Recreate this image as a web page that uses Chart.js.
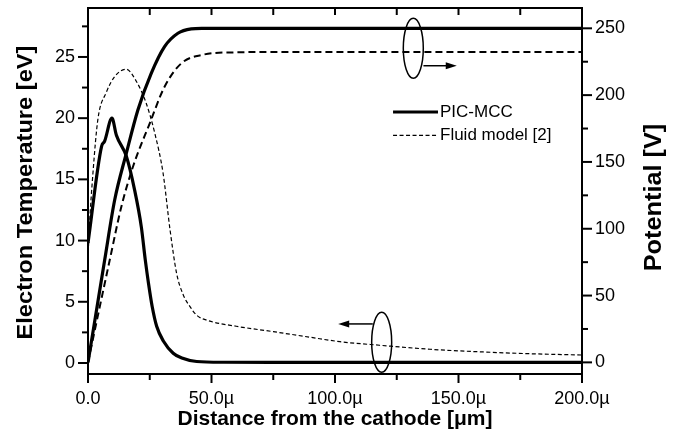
<!DOCTYPE html>
<html>
<head>
<meta charset="utf-8">
<script src="https://cdn.jsdelivr.net/npm/chart.js@4.4.1/dist/chart.umd.min.js"></script>
<style>
  html, body { margin: 0; padding: 0; background: #fff; }
  canvas { display: block; }
</style>
</head>
<body>
<canvas id="chart" width="682" height="446"></canvas>
<script>
// distance in micrometres, temperature in eV, potential in V
const picTempX = [0, 5.5, 6.7, 9.7, 11.5, 15.5, 18.9, 21.6, 23.2, 24.5, 26, 27.8, 30.5, 34.5, 38, 44, 55, 80, 200];
const picTempY = [9.8, 17.7, 18.1, 20.0, 18.6, 16.9, 14.1, 11.1, 8.4, 6.5, 4.6, 3.0, 1.8, 0.8, 0.4, 0.12, 0.06, 0.05, 0.05];

const picPotX = [0, 3, 6.75, 10.8, 15.5, 20.2, 25.6, 31, 36.4, 41.8, 46, 60, 200];
const picPotY = [0, 34, 76.6, 121.5, 156.4, 188.9, 216.3, 236.3, 246.3, 249.6, 250, 250, 250];

const fluidTempX = [0, 0.5, 2, 4, 7.4, 10.8, 15.5, 19.6, 23.6, 27, 30.4, 33.2, 35.9, 38.5, 41.3, 44, 48, 60, 75, 90, 102, 118, 138.5, 160, 180, 200];
const fluidTempY = [8.5, 10.9, 15.5, 19.9, 22.1, 23.4, 24.0, 23.0, 21.2, 18.8, 15.5, 10.9, 7.3, 5.6, 4.6, 3.9, 3.5, 3.0, 2.56, 2.1, 1.74, 1.45, 1.12, 0.9, 0.75, 0.65];

const fluidPotX = [0, 4, 8.8, 13.5, 18.2, 25, 31, 37.8, 45.9, 59.4, 80, 200];
const fluidPotY = [0, 35, 76.6, 116.5, 146.4, 178.9, 206.3, 223.8, 230, 232, 232.3, 232.3];

const xTicks = [0, 50, 100, 150, 200];
const tempTicks = [0, 5, 10, 15, 20, 25];
const potTicks = [0, 50, 100, 150, 200, 250];

const seriesNames = ['PIC-MCC', 'Fluid model [2]'];

const FONT = "'Liberation Sans', Arial, sans-serif";

function toPoints(xs, ys) {
    return xs.map((x, i) => ({ x: x, y: ys[i] }));
}

// majors plus the minor tick half way to the next one
function withMinors(ticks, max) {
    const step = ticks[1] - ticks[0];
    const out = [];
    ticks.forEach(v => {
        out.push([v, true]);
        if (v + step / 2 < max) out.push([v + step / 2, false]);
    });
    return out;
}

function fixBox(size, horizontal) {
    return function(scale) {
        if (horizontal) scale.height = size; else scale.width = size;
        scale.paddingTop = 0;
        scale.paddingBottom = 0;
        scale.paddingLeft = 0;
        scale.paddingRight = 0;
    };
}

const decor = {
    id: 'decor',
    afterDraw(chart) {
        const { ctx, chartArea: a } = chart;
        const x = chart.scales.x, yT = chart.scales.yT, yV = chart.scales.yV;
        const line = (x1, y1, x2, y2) => {
            ctx.beginPath(); ctx.moveTo(x1, y1); ctx.lineTo(x2, y2); ctx.stroke();
        };
        ctx.save();
        ctx.strokeStyle = '#000';
        ctx.fillStyle = '#000';

        // frame and tick marks
        ctx.lineWidth = 2;
        ctx.strokeRect(a.left, a.top, a.right - a.left, a.bottom - a.top);
        withMinors(xTicks, x.max).forEach(([v, major]) => {
            const px = x.getPixelForValue(v);
            line(px, a.bottom, px, a.bottom + (major ? 9 : 6));
            line(px, a.top, px, a.top + 7);
        });
        withMinors(tempTicks, yT.max).forEach(([v, major]) => {
            const py = yT.getPixelForValue(v);
            line(a.left, py, a.left - (major ? 10 : 6), py);
        });
        withMinors(potTicks, yV.max).forEach(([v, major]) => {
            const py = yV.getPixelForValue(v);
            line(a.right, py, a.right + (major ? 10 : 6), py);
        });

        // vertical axis titles, both read bottom to top, a bit stretched
        const vTitle = (text, cx, cy, size, stretch) => {
            ctx.save();
            ctx.font = 'bold ' + size + 'px ' + FONT;
            ctx.textAlign = 'center';
            ctx.textBaseline = 'middle';
            ctx.translate(cx, cy);
            ctx.rotate(-Math.PI / 2);
            ctx.scale(stretch, 1);
            ctx.fillText(text, 0, 0);
            ctx.restore();
        };
        vTitle('Electron Temperature [eV]', 26, 192.5, 21.5, 1.1);
        vTitle('Potential [V]', 655, 197.5, 23, 1.1);

        // ellipses with arrows pointing to the axis each pair belongs to
        ctx.lineWidth = 1.5;
        const ellipse = (cx, cy, rx, ry) => {
            ctx.beginPath(); ctx.ellipse(cx, cy, rx, ry, 0, 0, Math.PI * 2); ctx.stroke();
        };
        const arrow = (x1, y1, x2, y2) => {
            const d = Math.sign(x2 - x1);
            line(x1, y1, x2 - d * 6, y2);
            ctx.beginPath();
            ctx.moveTo(x2, y2);
            ctx.lineTo(x2 - d * 11, y2 - 3.5);
            ctx.lineTo(x2 - d * 11, y2 + 3.5);
            ctx.closePath();
            ctx.fill();
        };
        ellipse(x.getPixelForValue(131.7), yV.getPixelForValue(235), 10, 30);
        arrow(x.getPixelForValue(135.8), yV.getPixelForValue(222), x.getPixelForValue(149.3), yV.getPixelForValue(222));
        ellipse(x.getPixelForValue(118.9), yT.getPixelForValue(1.69), 10, 30);
        arrow(x.getPixelForValue(115.3), yT.getPixelForValue(3.19), x.getPixelForValue(101.3), yT.getPixelForValue(3.19));

        // legend
        const lx1 = x.getPixelForValue(123.5), lx2 = x.getPixelForValue(141.7);
        ctx.font = '17px ' + FONT;
        ctx.textAlign = 'left';
        ctx.textBaseline = 'middle';
        ctx.lineWidth = 3;
        let ly = yT.getPixelForValue(20.5);
        line(lx1, ly, lx2, ly);
        ctx.fillText(seriesNames[0], lx2 + 2, ly);
        ly = yT.getPixelForValue(18.6);
        ctx.lineWidth = 1.2;
        ctx.setLineDash([4, 2.5]);
        line(lx1, ly, lx2, ly);
        ctx.setLineDash([]);
        ctx.fillText(seriesNames[1], lx2 + 2, ly);
        ctx.restore();
    }
};

new Chart(document.getElementById('chart'), {
    type: 'line',
    data: {
        datasets: [
            {
                label: seriesNames[0] + ' Te',
                data: toPoints(picTempX, picTempY),
                yAxisID: 'yT',
                borderColor: '#000',
                borderWidth: 3.2,
                cubicInterpolationMode: 'monotone'
            },
            {
                label: seriesNames[0] + ' V',
                data: toPoints(picPotX, picPotY),
                yAxisID: 'yV',
                borderColor: '#000',
                borderWidth: 3.2,
                cubicInterpolationMode: 'monotone'
            },
            {
                label: seriesNames[1] + ' Te',
                data: toPoints(fluidTempX, fluidTempY),
                yAxisID: 'yT',
                borderColor: '#000',
                borderWidth: 1.2,
                borderDash: [4, 2.5],
                cubicInterpolationMode: 'monotone'
            },
            {
                label: seriesNames[1] + ' V',
                data: toPoints(fluidPotX, fluidPotY),
                yAxisID: 'yV',
                borderColor: '#000',
                borderWidth: 2,
                borderDash: [7, 4],
                cubicInterpolationMode: 'monotone'
            }
        ]
    },
    options: {
        responsive: false,
        animation: false,
        devicePixelRatio: 1,
        layout: { padding: { top: 8, left: 0, right: 0, bottom: 0 } },
        elements: { point: { radius: 0 } },
        plugins: {
            legend: { display: false },
            tooltip: { enabled: false }
        },
        scales: {
            x: {
                type: 'linear',
                position: 'bottom',
                min: 0,
                max: 200,
                grid: { display: false, drawTicks: false },
                border: { display: false },
                afterBuildTicks: s => { s.ticks = xTicks.map(v => ({ value: v })); },
                afterFit: fixBox(72, true),
                ticks: {
                    autoSkip: false,
                    maxRotation: 0,
                    padding: 14,
                    color: '#000',
                    font: { family: FONT, size: 18 },
                    callback: v => v === 0 ? '0.0' : v.toFixed(1) + '\u00b5'
                },
                title: {
                    display: true,
                    text: 'Distance from the cathode [\u03bcm]',
                    color: '#000',
                    font: { family: FONT, size: 21, weight: 'bold' },
                    padding: { top: 0, bottom: 14 }
                }
            },
            yT: {
                type: 'linear',
                position: 'left',
                min: -0.9,
                max: 29.0,
                grid: { display: false, drawTicks: false },
                border: { display: false },
                afterBuildTicks: s => { s.ticks = tempTicks.map(v => ({ value: v })); },
                afterFit: fixBox(88, false),
                ticks: {
                    autoSkip: false,
                    padding: 13,
                    color: '#000',
                    font: { family: FONT, size: 18 }
                }
            },
            yV: {
                type: 'linear',
                position: 'right',
                min: -8.7,
                max: 265.2,
                grid: { display: false, drawTicks: false },
                border: { display: false },
                afterBuildTicks: s => { s.ticks = potTicks.map(v => ({ value: v })); },
                afterFit: fixBox(100, false),
                ticks: {
                    autoSkip: false,
                    padding: 13,
                    color: '#000',
                    font: { family: FONT, size: 18 }
                }
            }
        }
    },
    plugins: [decor]
});
</script>
</body>
</html>
